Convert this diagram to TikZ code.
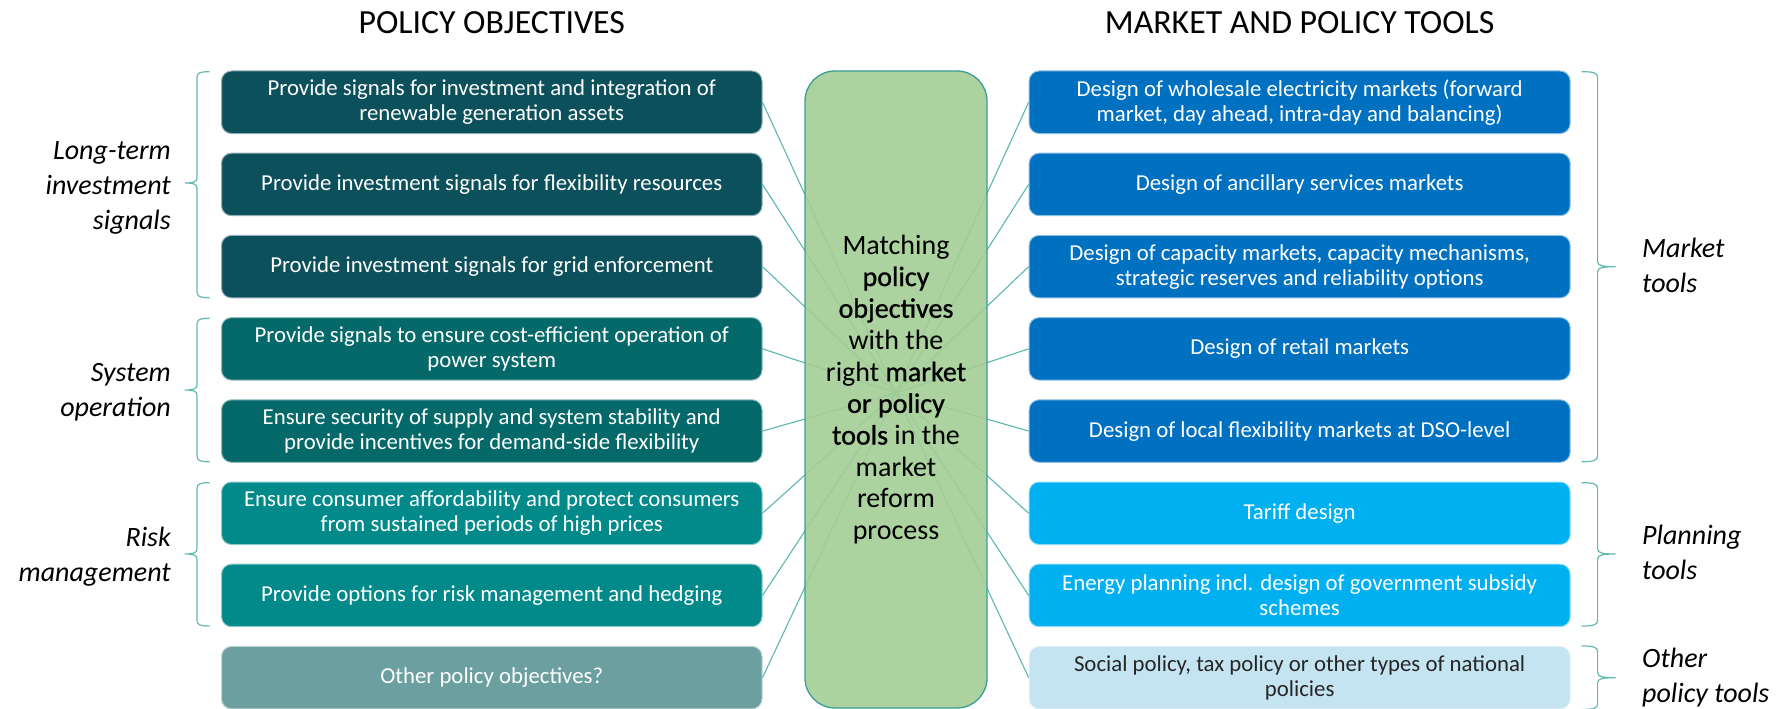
\documentclass[tikz,border=0pt]{standalone}
\usepackage{fontspec}
\setmainfont{Carlito}
\newfontfamily\strongfont{Carlito}[FakeBold=1.0]

% box fills
\definecolor{objA}{HTML}{0C505C}
\definecolor{objB}{HTML}{05696A}
\definecolor{objC}{HTML}{028A8A}
\definecolor{objD}{HTML}{6C9F9F}
\definecolor{toolA}{HTML}{0070C0}
\definecolor{toolB}{HTML}{00B0F0}
\definecolor{toolC}{HTML}{C5E4F1}
\definecolor{hubfill}{HTML}{A4CE95}
\definecolor{hubline}{HTML}{3A9E96}
\definecolor{linkc}{HTML}{5CB8B2}
\definecolor{brkc}{HTML}{62BAB5}
\definecolor{darktext}{HTML}{262626}

\newcommand\boxfont{\fontsize{22.8}{25}\selectfont}
\newcommand\headfont{\fontsize{33.8}{40}\selectfont}
\newcommand\hubfont{\fontsize{28}{31.7}\selectfont}
\newcommand\labelfont{\fontsize{28}{35}\selectfont\itshape}

% left-hand brace: x of the spine, top, middle, bottom
\newcommand\leftbrk[4]{%
  \draw[brk] ({#1+12.5},#2) .. controls ({#1+3},#2) and (#1,{#2+1}) .. (#1,{#2+6})
    -- (#1,{#3-5}) .. controls (#1,{#3-1}) and ({#1-4},#3) .. ({#1-12},#3)
    .. controls ({#1-4},#3) and (#1,{#3+1}) .. (#1,{#3+5})
    -- (#1,{#4-6}) .. controls (#1,{#4-1}) and ({#1+3},#4) .. ({#1+12.5},#4);}
% right-hand brace: x of the spine, top, middle, bottom
\newcommand\rightbrk[4]{%
  \draw[brk] ({#1-16},#2) .. controls ({#1-4},#2) and (#1,{#2+1}) .. (#1,{#2+6})
    -- (#1,{#3-5}) .. controls (#1,{#3-1}) and ({#1+5},#3) .. ({#1+18},#3)
    .. controls ({#1+5},#3) and (#1,{#3+1}) .. (#1,{#3+5})
    -- (#1,{#4-6}) .. controls (#1,{#4-1}) and ({#1-4},#4) .. ({#1-16},#4);}

\tikzset{
  objbox/.style={rounded corners=10pt, minimum width=540.5pt, minimum height=62.5pt,
    inner sep=0pt, fill=#1, draw=#1!45!white, line width=1pt, text=white,
    align=center, font=\boxfont},
  toolbox/.style={rounded corners=10pt, minimum width=541pt, minimum height=62.5pt,
    inner sep=0pt, fill=#1, draw=#1!45!white, line width=1pt, text=white,
    align=center, font=\boxfont},
  conn/.style={draw=linkc, line width=1.1pt},
  brk/.style={line width=1.2pt, draw=brkc},
  lefttag/.style={anchor=east, align=right, font=\labelfont, inner sep=0pt},
  righttag/.style={anchor=west, align=left, font=\labelfont, inner sep=0pt},
  heading/.style={anchor=base, font=\headfont, inner sep=0pt},
}

\begin{document}
\begin{tikzpicture}[x=1pt, y=-1pt]
\fill[white] (0,0) rectangle (1781,709);
\useasboundingbox (0,0) rectangle (1781,709);

% column headings
\node[heading] (hl) at (491.75,33.3) {POLICY OBJECTIVES};
\node[heading] (hr) at (1299.65,33.3) {MARKET AND POLICY TOOLS};

% policy objectives
\node[objbox=objA] (L1) at (491.75,102.25) {Provide signals for investment and integration of\\renewable generation assets};
\node[objbox=objA] (L2) at (491.75,184.45) {Provide investment signals for flexibility resources};
\node[objbox=objA] (L3) at (491.75,266.65) {Provide investment signals for grid enforcement};
\node[objbox=objB] (L4) at (491.75,348.85) {Provide signals to ensure cost-efficient operation of\\power system};
\node[objbox=objB] (L5) at (491.75,431.05) {Ensure security of supply and system stability and\\provide incentives for demand-side flexibility};
\node[objbox=objC] (L6) at (491.75,513.25) {Ensure consumer affordability and protect consumers\\from sustained periods of high prices};
\node[objbox=objC] (L7) at (491.75,595.45) {Provide options for risk management and hedging};
\node[objbox=objD] (L8) at (491.75,677.65) {Other policy objectives?};

% market and policy tools
\node[toolbox=toolA] (R1) at (1299.65,102.25) {Design of wholesale electricity markets (forward\\market, day ahead, intra-day and balancing)};
\node[toolbox=toolA] (R2) at (1299.65,184.45) {Design of ancillary services markets};
\node[toolbox=toolA] (R3) at (1299.65,266.65) {Design of capacity markets, capacity mechanisms,\\strategic reserves and reliability options};
\node[toolbox=toolA] (R4) at (1299.65,348.85) {Design of retail markets};
\node[toolbox=toolA] (R5) at (1299.65,431.05) {Design of local flexibility markets at DSO-level};
\node[toolbox=toolB] (R6) at (1299.65,513.25) {Tariff design};
\node[toolbox=toolB] (R7) at (1299.65,595.45) {Energy planning incl. design of government subsidy\\schemes};
\node[toolbox=toolC, text=darktext] (R8) at (1299.65,677.65) {Social policy, tax policy or other types of national\\policies};

% spokes from the centre of the matching box
\coordinate (hub) at (896,393);
\foreach \k in {1,...,8}{
  \draw[conn] (hub) -- (L\k.east);
  \draw[conn] (hub) -- (R\k.west);
}

% matching box, slightly see-through over the spokes
\node[rounded corners=30pt, minimum width=182pt, minimum height=637pt, inner sep=0pt,
      fill=hubfill, fill opacity=0.9, text opacity=1, draw=hubline, line width=1.3pt,
      align=center, font=\hubfont] (M) at (896,389.5)
  {Matching\\{\strongfont policy}\\{\strongfont objectives}\\with the\\right {\strongfont market}\\{\strongfont or policy}\\{\strongfont tools} in the\\market\\reform\\process};

% group braces
\leftbrk{197}{71.7}{183}{297.7}
\leftbrk{197}{318.3}{390}{461.7}
\leftbrk{197}{482.7}{554}{626}
\rightbrk{1597.6}{71.7}{266.7}{461.7}
\rightbrk{1597.6}{482.7}{554}{626}
\rightbrk{1597.6}{646}{677.7}{709.4}

% group labels
\node[lefttag] (g1) at (171,188) {Long-term\\investment\\signals};
\node[lefttag] (g2) at (171,392) {System\\operation};
\node[lefttag] (g3) at (171,557) {Risk\\management};
\node[righttag] (g4) at (1642,265.5) {Market\\tools};
\node[righttag] (g5) at (1642,552.5) {Planning\\tools};
\node[righttag] (g6) at (1642,678) {Other\\policy tools};
\end{tikzpicture}
\end{document}
